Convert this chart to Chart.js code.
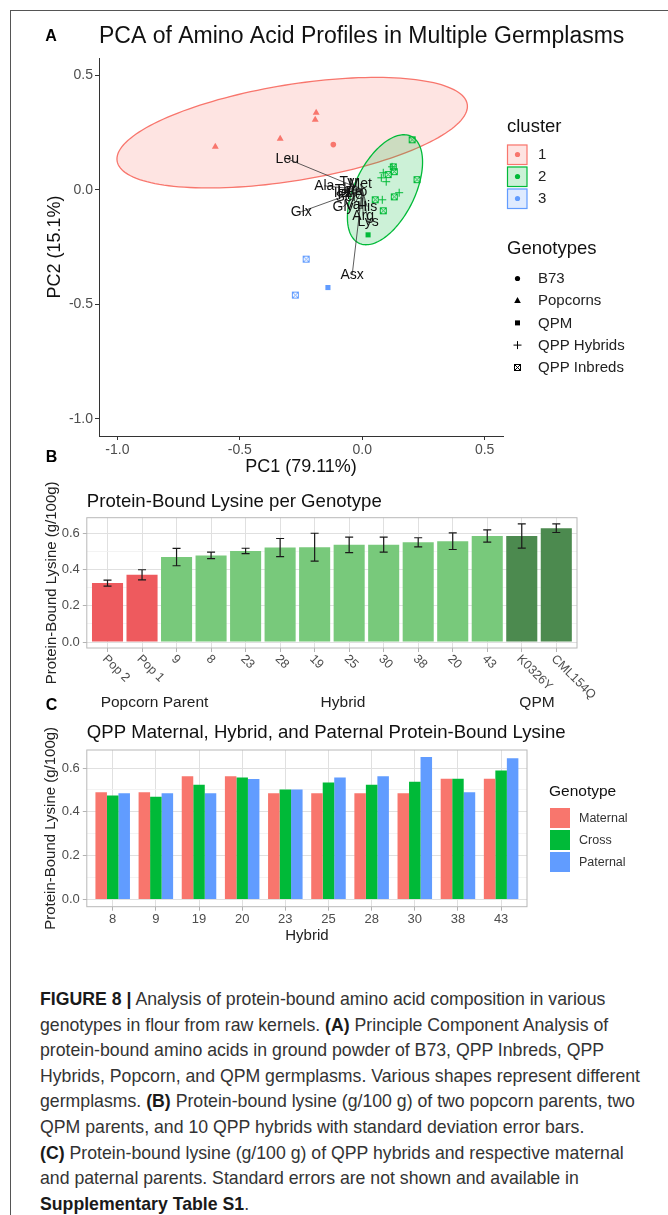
<!DOCTYPE html>
<html>
<head>
<meta charset="utf-8">
<script src="https://cdn.jsdelivr.net/npm/chart.js@4.4.1/dist/chart.umd.min.js"></script>
<style>
  body { margin: 0; background: #fff; }
  #page { position: relative; width: 668px; height: 1215px; overflow: hidden; font-family: "Liberation Sans", Arial, sans-serif; }
  #frame { position: absolute; left: 10px; top: 10px; width: 700px; height: 1250px; border-left: 1px solid #555; border-top: 1px solid #555; }
  canvas { position: absolute; left: 0; }
  #chartA { top: 0; }
  #chartB { top: 445px; }
  #chartC { top: 695px; }
  #caption { position: absolute; left: 40px; top: 987px; font-size: 17.7px; line-height: 25.6px; color: #333; white-space: nowrap; }
  #caption b { color: #1a1a1a; }
</style>
</head>
<body>
<div id="page">
  <div id="frame"></div>
  <canvas id="chartA" width="668" height="480"></canvas>
  <canvas id="chartB" width="668" height="275"></canvas>
  <canvas id="chartC" width="668" height="255"></canvas>
  <div id="caption">
    <div><b>FIGURE 8 |</b> Analysis of protein-bound amino acid composition in various</div>
    <div>genotypes in flour from raw kernels. <b>(A)</b> Principle Component Analysis of</div>
    <div>protein-bound amino acids in ground powder of B73, QPP Inbreds, QPP</div>
    <div>Hybrids, Popcorn, and QPM germplasms. Various shapes represent different</div>
    <div>germplasms. <b>(B)</b> Protein-bound lysine (g/100 g) of two popcorn parents, two</div>
    <div>QPM parents, and 10 QPP hybrids with standard deviation error bars.</div>
    <div><b>(C)</b> Protein-bound lysine (g/100 g) of QPP hybrids and respective maternal</div>
    <div>and paternal parents. Standard errors are not shown and available in</div>
    <div><b>Supplementary Table S1</b>.</div>
  </div>
</div>
<script>
// ---- panel A: PCA scores ----
const pcaX = [-0.600, -0.335, -0.188, -0.192, -0.118,
  0.204, 0.127, 0.131, 0.106, 0.224, 0.131, 0.053, 0.086,
  0.086, 0.078, 0.098, 0.122, 0.151, 0.082, 0.024,
  -0.229, -0.140, -0.273];
const pcaY = [0.188, 0.223, 0.336, 0.306, 0.197,
  0.218, 0.100, 0.079, 0.066, 0.044, -0.031, -0.044, -0.092,
  0.074, 0.052, 0.035, 0.100, -0.013, -0.044, -0.197,
  -0.303, -0.427, -0.460];
const pcaCluster = [1, 1, 1, 1, 1,
  2, 2, 2, 2, 2, 2, 2, 2,
  2, 2, 2, 2, 2, 2, 2,
  3, 3, 3];
const pcaGeno = ['Popcorns', 'Popcorns', 'Popcorns', 'Popcorns', 'B73',
  'QPP Inbreds', 'QPP Inbreds', 'QPP Inbreds', 'QPP Inbreds', 'QPP Inbreds', 'QPP Inbreds', 'QPP Inbreds', 'QPP Inbreds',
  'QPP Hybrids', 'QPP Hybrids', 'QPP Hybrids', 'QPP Hybrids', 'QPP Hybrids', 'QPP Hybrids', 'QPM',
  'QPP Inbreds', 'QPM', 'QPP Inbreds'];

// variable loadings (arrow tips)
const aminoAcids = ['Leu', 'Glx', 'Asx', 'Lys', 'Arg', 'His', 'Val', 'Gly', 'Ala', 'Met', 'Tyr', 'Thr', 'Ile', 'Phe', 'Ser', 'Pro'];
const loadX = [-0.306, -0.249, -0.041, 0.024, 0.004, 0.020, -0.033, -0.078, -0.155, -0.008, -0.053, -0.069, -0.086, -0.049, -0.065, -0.024];
const loadY = [0.135, -0.096, -0.371, -0.140, -0.114, -0.074, -0.066, -0.074, 0.017, 0.026, 0.031, 0.000, -0.013, -0.022, -0.031, -0.009];

// confidence ellipses: centre and two conjugate semi-axis vectors (data units)
const ellipseCluster = [1, 2];
const ellipseCx = [-0.286, 0.093];
const ellipseCy = [0.249, 0.000];
const ellipseAx = [0.715, 0.107];
const ellipseAy = [0.124, 0.233];
const ellipseBx = [0.031, 0.110];
const ellipseBy = [-0.207, -0.058];

const pcaTicks = [-1.0, -0.5, 0.0, 0.5];

// ---- panel B: lysine per genotype ----
const genoLabels = ['Pop 2', 'Pop 1', '9', '8', '23', '28', '19', '25', '30', '38', '20', '43', 'K0326Y', 'CML154Q'];
const genoGroup = ['Popcorn', 'Popcorn', 'Hybrid', 'Hybrid', 'Hybrid', 'Hybrid', 'Hybrid', 'Hybrid', 'Hybrid', 'Hybrid', 'Hybrid', 'Hybrid', 'QPM', 'QPM'];
const lysMean = [0.326, 0.372, 0.470, 0.479, 0.504, 0.523, 0.525, 0.538, 0.539, 0.552, 0.558, 0.587, 0.587, 0.630];
const lysSd = [0.017, 0.028, 0.048, 0.018, 0.015, 0.050, 0.077, 0.043, 0.041, 0.025, 0.046, 0.034, 0.067, 0.024];

// ---- panel C: maternal / cross / paternal ----
const hybrids = ['8', '9', '19', '20', '23', '25', '28', '30', '38', '43'];
const maternal = [0.490, 0.490, 0.563, 0.563, 0.485, 0.485, 0.485, 0.485, 0.551, 0.551];
const cross = [0.475, 0.469, 0.524, 0.557, 0.502, 0.534, 0.524, 0.538, 0.551, 0.589];
const paternal = [0.485, 0.485, 0.485, 0.550, 0.502, 0.557, 0.563, 0.650, 0.490, 0.645];

const lysTicks = [0.0, 0.1, 0.2, 0.3, 0.4, 0.5, 0.6];

// ---- styling ----
const FONT = '"Liberation Sans", Arial, sans-serif';
Chart.defaults.font.family = FONT;
const clusterColor = { 1: '#F8766D', 2: '#00BA38', 3: '#619CFF' };
const groupColor = { Popcorn: '#EE5A5E', Hybrid: '#78C97B', QPM: '#4C8A4F' };
const genoOrder = ['B73', 'Popcorns', 'QPM', 'QPP Hybrids', 'QPP Inbreds'];

function rgba(hex, a) {
  const n = parseInt(hex.slice(1), 16);
  return `rgba(${n >> 16},${(n >> 8) & 255},${n & 255},${a})`;
}
function put(ctx, str, x, y, size, opt = {}) {
  ctx.save();
  ctx.font = (opt.bold ? 'bold ' : '') + size + 'px ' + FONT;
  ctx.fillStyle = opt.color || '#000';
  ctx.textAlign = opt.align || 'left';
  ctx.textBaseline = 'middle';
  ctx.translate(x, y);
  if (opt.rot) ctx.rotate(opt.rot);
  ctx.fillText(str, 0, 0);
  ctx.restore();
}
function boxX(color) {
  const c = document.createElement('canvas');
  c.width = 9; c.height = 9;
  const g = c.getContext('2d');
  g.strokeStyle = color; g.lineWidth = 1;
  g.strokeRect(1.5, 1.5, 6, 6);
  g.beginPath();
  g.moveTo(1.5, 1.5); g.lineTo(7.5, 7.5);
  g.moveTo(7.5, 1.5); g.lineTo(1.5, 7.5);
  g.stroke();
  return c;
}
const inbredImg = { 1: boxX(clusterColor[1]), 2: boxX(clusterColor[2]), 3: boxX(clusterColor[3]), k: boxX('#000') };

function marker(ctx, g, x, y, color) {
  ctx.save();
  ctx.fillStyle = color; ctx.strokeStyle = color; ctx.lineWidth = 1;
  ctx.beginPath();
  if (g === 'B73') { ctx.arc(x, y, 2.6, 0, 2 * Math.PI); ctx.fill(); }
  else if (g === 'Popcorns') { ctx.moveTo(x, y - 3.6); ctx.lineTo(x + 3.3, y + 2.2); ctx.lineTo(x - 3.3, y + 2.2); ctx.closePath(); ctx.fill(); }
  else if (g === 'QPM') { ctx.fillRect(x - 2.5, y - 2.5, 5, 5); }
  else if (g === 'QPP Hybrids') { ctx.moveTo(x - 4, y); ctx.lineTo(x + 4, y); ctx.moveTo(x, y - 4); ctx.lineTo(x, y + 4); ctx.stroke(); }
  else { ctx.drawImage(inbredImg.k, Math.round(x - 4.5), Math.round(y - 4.5)); }
  ctx.restore();
}

// ---------------- Panel A ----------------
const pcaStyle = { 'B73': 'circle', 'Popcorns': 'triangle', 'QPM': 'rect', 'QPP Hybrids': 'cross' };
const pcaRadius = { 'B73': 2.8, 'Popcorns': 4, 'QPM': 3.6, 'QPP Hybrids': 4, 'QPP Inbreds': 4 };
const pcaSets = genoOrder.map(g => {
  const idx = pcaGeno.map((v, i) => v === g ? i : -1).filter(i => i >= 0);
  return {
    label: g,
    data: idx.map(i => ({ x: pcaX[i], y: pcaY[i] })),
    pointStyle: g === 'QPP Inbreds' ? idx.map(i => inbredImg[pcaCluster[i]]) : pcaStyle[g],
    pointRadius: pcaRadius[g],
    backgroundColor: idx.map(i => clusterColor[pcaCluster[i]]),
    borderColor: idx.map(i => clusterColor[pcaCluster[i]]),
    borderWidth: g === 'QPP Hybrids' ? 1 : 0
  };
});

const pcaPlugin = {
  id: 'pcaExtras',
  beforeDatasetsDraw(chart) {
    const { ctx, chartArea: a, scales: { x, y } } = chart;
    ctx.save();
    ctx.beginPath(); ctx.rect(a.left, a.top, a.width, a.height); ctx.clip();
    ellipseCluster.forEach((c, k) => {
      ctx.beginPath();
      for (let i = 0; i <= 160; i++) {
        const t = i / 160 * 2 * Math.PI;
        const vx = ellipseCx[k] + ellipseAx[k] * Math.cos(t) + ellipseBx[k] * Math.sin(t);
        const vy = ellipseCy[k] + ellipseAy[k] * Math.cos(t) + ellipseBy[k] * Math.sin(t);
        const px = x.getPixelForValue(vx), py = y.getPixelForValue(vy);
        if (i) ctx.lineTo(px, py); else ctx.moveTo(px, py);
      }
      ctx.closePath();
      ctx.fillStyle = rgba(clusterColor[c], 0.2);
      ctx.fill();
      ctx.strokeStyle = clusterColor[c];
      ctx.lineWidth = 1.3;
      ctx.stroke();
    });
    ctx.restore();
  },
  afterDatasetsDraw(chart) {
    const { ctx, scales: { x, y } } = chart;
    const ox = x.getPixelForValue(0), oy = y.getPixelForValue(0);
    ctx.save();
    ctx.strokeStyle = '#333'; ctx.lineWidth = 0.8;
    aminoAcids.forEach((aa, i) => {
      ctx.beginPath();
      ctx.moveTo(ox, oy);
      ctx.lineTo(x.getPixelForValue(loadX[i]), y.getPixelForValue(loadY[i]));
      ctx.stroke();
    });
    ctx.restore();
    aminoAcids.forEach((aa, i) => {
      put(ctx, aa, x.getPixelForValue(loadX[i]), y.getPixelForValue(loadY[i]), 14, { align: 'center', color: '#111' });
    });
  },
  afterDraw(chart) {
    const { ctx, chartArea: a } = chart;
    put(ctx, 'A', 51, 37, 16, { bold: true, align: 'center' });
    put(ctx, 'PCA of Amino Acid Profiles in Multiple Germplasms', a.left, 37, 23, { color: '#111' });
    put(ctx, 'PC1 (79.11%)', (a.left + a.right) / 2, 467, 18, { align: 'center', color: '#111' });
    put(ctx, 'PC2 (15.1%)', 55, (a.top + a.bottom) / 2, 18, { align: 'center', rot: -Math.PI / 2, color: '#111' });
    // cluster legend
    put(ctx, 'cluster', 507, 127, 18.5, { color: '#111' });
    [1, 2, 3].forEach((c, i) => {
      const top = 144.5 + i * 22;
      ctx.save();
      ctx.fillStyle = rgba(clusterColor[c], 0.2);
      ctx.fillRect(507, top, 20, 20);
      ctx.strokeStyle = clusterColor[c]; ctx.lineWidth = 1.2;
      ctx.strokeRect(507.5, top + 0.5, 19.5, 19.5);
      ctx.fillStyle = clusterColor[c];
      ctx.beginPath(); ctx.arc(517.5, top + 10, 2.6, 0, 2 * Math.PI); ctx.fill();
      ctx.restore();
      put(ctx, String(c), 538, top + 10.5, 15, { color: '#222' });
    });
    // genotype legend
    put(ctx, 'Genotypes', 507, 249, 18.5, { color: '#111' });
    genoOrder.forEach((g, i) => {
      const yy = 278.5 + i * 22.2;
      marker(ctx, g, 517.5, yy, '#000');
      put(ctx, g, 538, yy + 0.5, 15, { color: '#222' });
    });
  }
};

new Chart(document.getElementById('chartA'), {
  type: 'scatter',
  data: { datasets: pcaSets },
  options: {
    responsive: false, animation: false, events: [],
    layout: { padding: { top: 58, right: 165, left: 0, bottom: 0 } },
    plugins: { legend: { display: false }, tooltip: { enabled: false } },
    scales: {
      x: {
        type: 'linear', min: -1.075, max: 0.575,
        afterBuildTicks: s => { s.ticks = pcaTicks.map(v => ({ value: v })); },
        ticks: { callback: v => v.toFixed(1), color: '#4D4D4D', font: { size: 14 }, padding: 2, maxRotation: 0, autoSkip: false },
        grid: { drawOnChartArea: false, tickLength: 4, color: '#333' },
        border: { color: '#333', width: 1 },
        afterFit: s => { s.height = 44; }
      },
      y: {
        type: 'linear', min: -1.075, max: 0.575,
        afterBuildTicks: s => { s.ticks = pcaTicks.map(v => ({ value: v })); },
        ticks: { callback: v => v.toFixed(1), color: '#4D4D4D', font: { size: 14 }, padding: 2 },
        grid: { drawOnChartArea: false, tickLength: 4, color: '#333' },
        border: { color: '#333', width: 1 },
        afterFit: s => { s.width = 99; }
      }
    }
  },
  plugins: [pcaPlugin]
});

// ---------------- shared light theme for B and C ----------------
const isMajor = v => Math.round(v * 10) % 2 === 0;
function lysYAxis(width, min, max) {
  return {
    type: 'linear', min: min, max: max,
    afterBuildTicks: s => { s.ticks = lysTicks.map(v => ({ value: v })); },
    ticks: { callback: v => isMajor(v) ? v.toFixed(1) : '', color: '#4D4D4D', font: { size: 13 }, padding: 3 },
    grid: {
      color: c => (c.tick && isMajor(c.tick.value)) ? '#E0E0E0' : '#F0F0F0',
      lineWidth: c => (c.tick && isMajor(c.tick.value)) ? 1 : 0.8,
      tickColor: c => (c.tick && isMajor(c.tick.value)) ? '#B3B3B3' : 'rgba(0,0,0,0)',
      tickLength: 4
    },
    border: { display: false },
    afterFit: s => { s.width = width; }
  };
}
function catXAxis(n, height, ticks) {
  return {
    type: 'linear', min: -0.6, max: n - 0.4, offset: false,
    afterBuildTicks: s => { s.ticks = Array.from({ length: n }, (_, i) => ({ value: i })); },
    ticks: ticks,
    grid: { color: '#E0E0E0', tickColor: '#B3B3B3', tickLength: 4, offset: false },
    border: { display: false },
    afterFit: s => { s.height = height; }
  };
}
function panelBorder(chart) {
  const { ctx, chartArea: a } = chart;
  ctx.save();
  ctx.strokeStyle = '#B8B8B8'; ctx.lineWidth = 1;
  ctx.strokeRect(a.left, a.top, a.width, a.height);
  ctx.restore();
}

// ---------------- Panel B ----------------
const barsBPlugin = {
  id: 'barsB',
  afterDatasetsDraw(chart) {
    const { ctx, scales: { y } } = chart;
    const meta = chart.getDatasetMeta(0);
    ctx.save();
    ctx.strokeStyle = '#1a1a1a'; ctx.lineWidth = 1.2;
    meta.data.forEach((bar, i) => {
      const y1 = y.getPixelForValue(lysMean[i] + lysSd[i]);
      const y0 = y.getPixelForValue(lysMean[i] - lysSd[i]);
      ctx.beginPath();
      ctx.moveTo(bar.x, y0); ctx.lineTo(bar.x, y1);
      ctx.moveTo(bar.x - 4, y0); ctx.lineTo(bar.x + 4, y0);
      ctx.moveTo(bar.x - 4, y1); ctx.lineTo(bar.x + 4, y1);
      ctx.stroke();
    });
    ctx.restore();
    panelBorder(chart);
  },
  afterDraw(chart) {
    const { ctx, chartArea: a, scales: { x } } = chart;
    put(ctx, 'B', 51.5, 12.5, 16, { bold: true, align: 'center' });
    put(ctx, 'Protein-Bound Lysine per Genotype', a.left, 56.7, 18.6, { color: '#111' });
    put(ctx, 'Protein-Bound Lysine (g/100g)', 52, (a.top + a.bottom) / 2, 15, { align: 'center', rot: -Math.PI / 2, color: '#222' });
    genoLabels.forEach((lab, i) => {
      put(ctx, lab, x.getPixelForValue(i) - 3, a.bottom + 9, 12.5, { rot: Math.PI / 4, color: '#4D4D4D' });
    });
    put(ctx, 'Popcorn Parent', 154.5, 258, 15.5, { align: 'center', color: '#222' });
    put(ctx, 'Hybrid', 343, 258, 15.5, { align: 'center', color: '#222' });
    put(ctx, 'QPM', 537, 258, 15.5, { align: 'center', color: '#222' });
  }
};

new Chart(document.getElementById('chartB'), {
  type: 'bar',
  data: {
    datasets: [{
      data: lysMean.map((v, i) => ({ x: i, y: v })),
      backgroundColor: genoGroup.map(g => groupColor[g]),
      barPercentage: 0.9, categoryPercentage: 1.0, borderWidth: 0
    }]
  },
  options: {
    responsive: false, animation: false, events: [],
    layout: { padding: { top: 72.7, right: 91, left: 0, bottom: 0 } },
    plugins: { legend: { display: false }, tooltip: { enabled: false } },
    scales: {
      x: catXAxis(genoLabels.length, 72, { display: false }),
      y: lysYAxis(86.8, -0.033, 0.688)
    }
  },
  plugins: [barsBPlugin]
});

// ---------------- Panel C ----------------
const seriesC = [
  { label: 'Maternal', values: maternal, color: '#F8766D' },
  { label: 'Cross', values: cross, color: '#00BA38' },
  { label: 'Paternal', values: paternal, color: '#619CFF' }
];
const barsCPlugin = {
  id: 'barsC',
  afterDatasetsDraw(chart) { panelBorder(chart); },
  afterDraw(chart) {
    const { ctx, chartArea: a } = chart;
    put(ctx, 'C', 51.5, 11, 16, { bold: true, align: 'center' });
    put(ctx, 'QPP Maternal, Hybrid, and Paternal Protein-Bound Lysine', a.left, 38, 18.6, { color: '#111' });
    put(ctx, 'Hybrid', (a.left + a.right) / 2, 241, 15, { align: 'center', color: '#222' });
    put(ctx, 'Protein-Bound Lysine (g/100g)', 51, (a.top + a.bottom) / 2, 15, { align: 'center', rot: -Math.PI / 2, color: '#222' });
    put(ctx, 'Genotype', 549, 97, 15.5, { color: '#111' });
    seriesC.forEach((s, i) => {
      const top = 113 + i * 22;
      ctx.save();
      ctx.fillStyle = s.color;
      ctx.fillRect(550, top, 20, 20);
      ctx.restore();
      put(ctx, s.label, 579, top + 10.5, 12.5, { color: '#333' });
    });
  }
};

new Chart(document.getElementById('chartC'), {
  type: 'bar',
  data: {
    datasets: seriesC.map(s => ({
      label: s.label,
      data: s.values.map((v, i) => ({ x: i, y: v })),
      backgroundColor: s.color,
      barPercentage: 1.0, categoryPercentage: 0.8, borderWidth: 0
    }))
  },
  options: {
    responsive: false, animation: false, events: [],
    layout: { padding: { top: 55, right: 141, left: 0, bottom: 0 } },
    plugins: { legend: { display: false }, tooltip: { enabled: false } },
    scales: {
      x: catXAxis(hybrids.length, 43.3, { callback: v => hybrids[v], color: '#4D4D4D', font: { size: 13 }, padding: 1, maxRotation: 0, autoSkip: false }),
      y: lysYAxis(86.8, -0.0325, 0.6825)
    }
  },
  plugins: [barsCPlugin]
});
</script>
</body>
</html>
